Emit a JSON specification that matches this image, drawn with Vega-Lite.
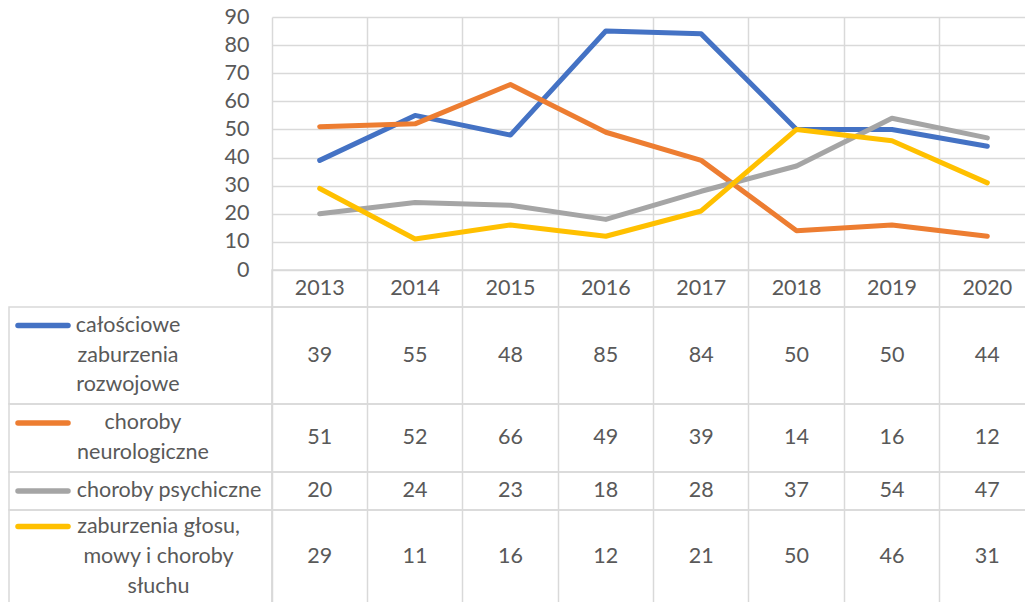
{
  "$schema": "https://vega.github.io/schema/vega-lite/v6.json",
  "padding": {"left": 6, "top": 6, "right": 0, "bottom": 0},
  "background": "white",
  "columns": 2,
  "spacing": 0,
  "bounds": "flush",
  "align": "each",
  "datasets": {
    "main": [
      {"series": "całościowe zaburzenia rozwojowe", "year": "2013", "value": 39},
      {"series": "całościowe zaburzenia rozwojowe", "year": "2014", "value": 55},
      {"series": "całościowe zaburzenia rozwojowe", "year": "2015", "value": 48},
      {"series": "całościowe zaburzenia rozwojowe", "year": "2016", "value": 85},
      {"series": "całościowe zaburzenia rozwojowe", "year": "2017", "value": 84},
      {"series": "całościowe zaburzenia rozwojowe", "year": "2018", "value": 50},
      {"series": "całościowe zaburzenia rozwojowe", "year": "2019", "value": 50},
      {"series": "całościowe zaburzenia rozwojowe", "year": "2020", "value": 44},
      {"series": "choroby neurologiczne", "year": "2013", "value": 51},
      {"series": "choroby neurologiczne", "year": "2014", "value": 52},
      {"series": "choroby neurologiczne", "year": "2015", "value": 66},
      {"series": "choroby neurologiczne", "year": "2016", "value": 49},
      {"series": "choroby neurologiczne", "year": "2017", "value": 39},
      {"series": "choroby neurologiczne", "year": "2018", "value": 14},
      {"series": "choroby neurologiczne", "year": "2019", "value": 16},
      {"series": "choroby neurologiczne", "year": "2020", "value": 12},
      {"series": "choroby psychiczne", "year": "2013", "value": 20},
      {"series": "choroby psychiczne", "year": "2014", "value": 24},
      {"series": "choroby psychiczne", "year": "2015", "value": 23},
      {"series": "choroby psychiczne", "year": "2016", "value": 18},
      {"series": "choroby psychiczne", "year": "2017", "value": 28},
      {"series": "choroby psychiczne", "year": "2018", "value": 37},
      {"series": "choroby psychiczne", "year": "2019", "value": 54},
      {"series": "choroby psychiczne", "year": "2020", "value": 47},
      {"series": "zaburzenia głosu, mowy i choroby słuchu", "year": "2013", "value": 29},
      {"series": "zaburzenia głosu, mowy i choroby słuchu", "year": "2014", "value": 11},
      {"series": "zaburzenia głosu, mowy i choroby słuchu", "year": "2015", "value": 16},
      {"series": "zaburzenia głosu, mowy i choroby słuchu", "year": "2016", "value": 12},
      {"series": "zaburzenia głosu, mowy i choroby słuchu", "year": "2017", "value": 21},
      {"series": "zaburzenia głosu, mowy i choroby słuchu", "year": "2018", "value": 50},
      {"series": "zaburzenia głosu, mowy i choroby słuchu", "year": "2019", "value": 46},
      {"series": "zaburzenia głosu, mowy i choroby słuchu", "year": "2020", "value": 31}
    ]
  },
  "config": {
    "font": "Lato",
    "view": {"stroke": "#D9D9D9", "strokeWidth": 1.5},
    "axis": {"gridColor": "#D9D9D9", "gridWidth": 1.5, "labelFont": "Lato", "labelFontSize": 21.5, "labelColor": "#595959", "domain": false, "ticks": false},
    "text": {"font": "Lato", "fontSize": 21.5, "color": "#595959", "baseline": "middle"}
  },
  "concat": [
    {
      "width": 263, "height": 253, "view": {"stroke": null},
      "data": {"values": [{}]},
      "mark": {"type": "text"},
      "encoding": {"text": {"value": ""}}
    },
    {
      "width": 763, "height": 253, "view": {"stroke": null},
      "data": {"name": "main"},
      "mark": {"type": "line", "strokeWidth": 5, "strokeCap": "round", "strokeJoin": "round"},
      "encoding": {
        "x": {"field": "year", "type": "ordinal", "scale": {"type": "band", "paddingInner": 0, "paddingOuter": 0}, "axis": {"grid": true, "bandPosition": 0, "labels": false, "title": null}},
        "y": {"field": "value", "type": "quantitative", "scale": {"domain": [0, 90], "nice": false}, "axis": {"values": [0, 10, 20, 30, 40, 50, 60, 70, 80, 90], "labelPadding": 23, "grid": true, "title": null}},
        "color": {"field": "series", "type": "nominal", "scale": {"domain": ["całościowe zaburzenia rozwojowe", "choroby neurologiczne", "choroby psychiczne", "zaburzenia głosu, mowy i choroby słuchu"], "range": ["#4472C4", "#ED7D31", "#A5A5A5", "#FFC000"]}, "legend": null}
      }
    },
    {
      "width": 263, "height": 37, "view": {"stroke": null},
      "data": {"values": [{}]},
      "mark": {"type": "text"},
      "encoding": {"text": {"value": ""}}
    },
    {
      "width": 763, "height": 37,
      "data": {"name": "main"},
      "transform": [{"filter": {"field": "series", "equal": "całościowe zaburzenia rozwojowe"}}],
      "mark": {"type": "text"},
      "encoding": {
        "x": {"field": "year", "type": "ordinal", "scale": {"type": "band", "paddingInner": 0, "paddingOuter": 0}, "axis": {"grid": true, "bandPosition": 0, "labels": false, "title": null}},
        "text": {"field": "year", "type": "nominal"}
      }
    },
    {
      "width": 263, "height": 97,
      "data": {"values": [{"line": "l1", "text": "całościowe"}, {"line": "l2", "text": "zaburzenia"}, {"line": "l3", "text": "rozwojowe"}]},
      "layer": [
        {
          "mark": {"type": "text"},
          "encoding": {
            "x": {"datum": "label", "type": "nominal", "scale": {"type": "band", "domain": ["swatch", "label"], "paddingInner": 0.2, "paddingOuter": 0.647, "align": 0}, "axis": null},
            "y": {"field": "line", "type": "nominal", "scale": {"type": "point", "domain": ["l1", "l2", "l3"], "padding": 0.617}, "axis": null},
            "text": {"field": "text", "type": "nominal"}
          }
        },
        {
          "transform": [{"filter": {"field": "line", "equal": "l1"}}],
          "mark": {"type": "point", "shape": "M-1,0H1", "size": 2500, "filled": false, "strokeWidth": 5.5, "strokeCap": "round", "opacity": 1},
          "encoding": {
            "x": {"datum": "swatch", "type": "nominal", "scale": {"type": "band", "domain": ["swatch", "label"], "paddingInner": 0.2, "paddingOuter": 0.647, "align": 0}, "axis": null},
            "y": {"field": "line", "type": "nominal", "scale": {"type": "point", "domain": ["l1", "l2", "l3"], "padding": 0.617}, "axis": null},
            "color": {"datum": "całościowe zaburzenia rozwojowe", "type": "nominal", "scale": {"domain": ["całościowe zaburzenia rozwojowe", "choroby neurologiczne", "choroby psychiczne", "zaburzenia głosu, mowy i choroby słuchu"], "range": ["#4472C4", "#ED7D31", "#A5A5A5", "#FFC000"]}, "legend": null}
          }
        }
      ]
    },
    {
      "width": 763, "height": 97,
      "data": {"name": "main"},
      "transform": [{"filter": {"field": "series", "equal": "całościowe zaburzenia rozwojowe"}}],
      "mark": {"type": "text"},
      "encoding": {
        "x": {"field": "year", "type": "ordinal", "scale": {"type": "band", "paddingInner": 0, "paddingOuter": 0}, "axis": {"grid": true, "bandPosition": 0, "labels": false, "title": null}},
        "text": {"field": "value", "type": "quantitative"}
      }
    },
    {
      "width": 263, "height": 68,
      "data": {"values": [{"line": "l1", "text": "choroby"}, {"line": "l2", "text": "neurologiczne"}]},
      "layer": [
        {
          "mark": {"type": "text"},
          "encoding": {
            "x": {"datum": "label", "type": "nominal", "scale": {"type": "band", "domain": ["swatch", "label"], "paddingInner": 0.32, "paddingOuter": 0.475, "align": 0}, "axis": null},
            "y": {"field": "line", "type": "nominal", "scale": {"type": "point", "domain": ["l1", "l2"], "padding": 0.633}, "axis": null},
            "text": {"field": "text", "type": "nominal"}
          }
        },
        {
          "transform": [{"filter": {"field": "line", "equal": "l1"}}],
          "mark": {"type": "point", "shape": "M-1,0H1", "size": 2500, "filled": false, "strokeWidth": 5.5, "strokeCap": "round", "opacity": 1},
          "encoding": {
            "x": {"datum": "swatch", "type": "nominal", "scale": {"type": "band", "domain": ["swatch", "label"], "paddingInner": 0.32, "paddingOuter": 0.475, "align": 0}, "axis": null},
            "y": {"field": "line", "type": "nominal", "scale": {"type": "point", "domain": ["l1", "l2"], "padding": 0.633}, "axis": null},
            "color": {"datum": "choroby neurologiczne", "type": "nominal", "scale": {"domain": ["całościowe zaburzenia rozwojowe", "choroby neurologiczne", "choroby psychiczne", "zaburzenia głosu, mowy i choroby słuchu"], "range": ["#4472C4", "#ED7D31", "#A5A5A5", "#FFC000"]}, "legend": null}
          }
        }
      ]
    },
    {
      "width": 763, "height": 68,
      "data": {"name": "main"},
      "transform": [{"filter": {"field": "series", "equal": "choroby neurologiczne"}}],
      "mark": {"type": "text"},
      "encoding": {
        "x": {"field": "year", "type": "ordinal", "scale": {"type": "band", "paddingInner": 0, "paddingOuter": 0}, "axis": {"grid": true, "bandPosition": 0, "labels": false, "title": null}},
        "text": {"field": "value", "type": "quantitative"}
      }
    },
    {
      "width": 263, "height": 38,
      "data": {"values": [{"line": "l1", "text": "choroby psychiczne"}]},
      "layer": [
        {
          "mark": {"type": "text"},
          "encoding": {
            "x": {"datum": "label", "type": "nominal", "scale": {"type": "band", "domain": ["swatch", "label"], "paddingInner": 0.4603, "paddingOuter": 0.2738, "align": 0}, "axis": null},
            "y": {"field": "line", "type": "nominal", "scale": {"type": "point", "domain": ["l1"], "padding": 0.5}, "axis": null},
            "text": {"field": "text", "type": "nominal"}
          }
        },
        {
          "mark": {"type": "point", "shape": "M-1,0H1", "size": 2500, "filled": false, "strokeWidth": 5.5, "strokeCap": "round", "opacity": 1},
          "encoding": {
            "x": {"datum": "swatch", "type": "nominal", "scale": {"type": "band", "domain": ["swatch", "label"], "paddingInner": 0.4603, "paddingOuter": 0.2738, "align": 0}, "axis": null},
            "y": {"field": "line", "type": "nominal", "scale": {"type": "point", "domain": ["l1"], "padding": 0.5}, "axis": null},
            "color": {"datum": "choroby psychiczne", "type": "nominal", "scale": {"domain": ["całościowe zaburzenia rozwojowe", "choroby neurologiczne", "choroby psychiczne", "zaburzenia głosu, mowy i choroby słuchu"], "range": ["#4472C4", "#ED7D31", "#A5A5A5", "#FFC000"]}, "legend": null}
          }
        }
      ]
    },
    {
      "width": 763, "height": 38,
      "data": {"name": "main"},
      "transform": [{"filter": {"field": "series", "equal": "choroby psychiczne"}}],
      "mark": {"type": "text"},
      "encoding": {
        "x": {"field": "year", "type": "ordinal", "scale": {"type": "band", "paddingInner": 0, "paddingOuter": 0}, "axis": {"grid": true, "bandPosition": 0, "labels": false, "title": null}},
        "text": {"field": "value", "type": "quantitative"}
      }
    },
    {
      "width": 263, "height": 93,
      "data": {"values": [{"line": "l1", "text": "zaburzenia głosu,"}, {"line": "l2", "text": "mowy i choroby"}, {"line": "l3", "text": "słuchu"}]},
      "layer": [
        {
          "mark": {"type": "text"},
          "encoding": {
            "x": {"datum": "label", "type": "nominal", "scale": {"type": "band", "domain": ["swatch", "label"], "paddingInner": 0.4113, "paddingOuter": 0.3442, "align": 0}, "axis": null},
            "y": {"field": "line", "type": "nominal", "scale": {"type": "point", "domain": ["l1", "l2", "l3"], "padding": 0.55}, "axis": null},
            "text": {"field": "text", "type": "nominal"}
          }
        },
        {
          "transform": [{"filter": {"field": "line", "equal": "l1"}}],
          "mark": {"type": "point", "shape": "M-1,0H1", "size": 2500, "filled": false, "strokeWidth": 5.5, "strokeCap": "round", "opacity": 1},
          "encoding": {
            "x": {"datum": "swatch", "type": "nominal", "scale": {"type": "band", "domain": ["swatch", "label"], "paddingInner": 0.4113, "paddingOuter": 0.3442, "align": 0}, "axis": null},
            "y": {"field": "line", "type": "nominal", "scale": {"type": "point", "domain": ["l1", "l2", "l3"], "padding": 0.55}, "axis": null},
            "color": {"datum": "zaburzenia głosu, mowy i choroby słuchu", "type": "nominal", "scale": {"domain": ["całościowe zaburzenia rozwojowe", "choroby neurologiczne", "choroby psychiczne", "zaburzenia głosu, mowy i choroby słuchu"], "range": ["#4472C4", "#ED7D31", "#A5A5A5", "#FFC000"]}, "legend": null}
          }
        }
      ]
    },
    {
      "width": 763, "height": 93,
      "data": {"name": "main"},
      "transform": [{"filter": {"field": "series", "equal": "zaburzenia głosu, mowy i choroby słuchu"}}],
      "mark": {"type": "text"},
      "encoding": {
        "x": {"field": "year", "type": "ordinal", "scale": {"type": "band", "paddingInner": 0, "paddingOuter": 0}, "axis": {"grid": true, "bandPosition": 0, "labels": false, "title": null}},
        "text": {"field": "value", "type": "quantitative"}
      }
    }
  ]
}
